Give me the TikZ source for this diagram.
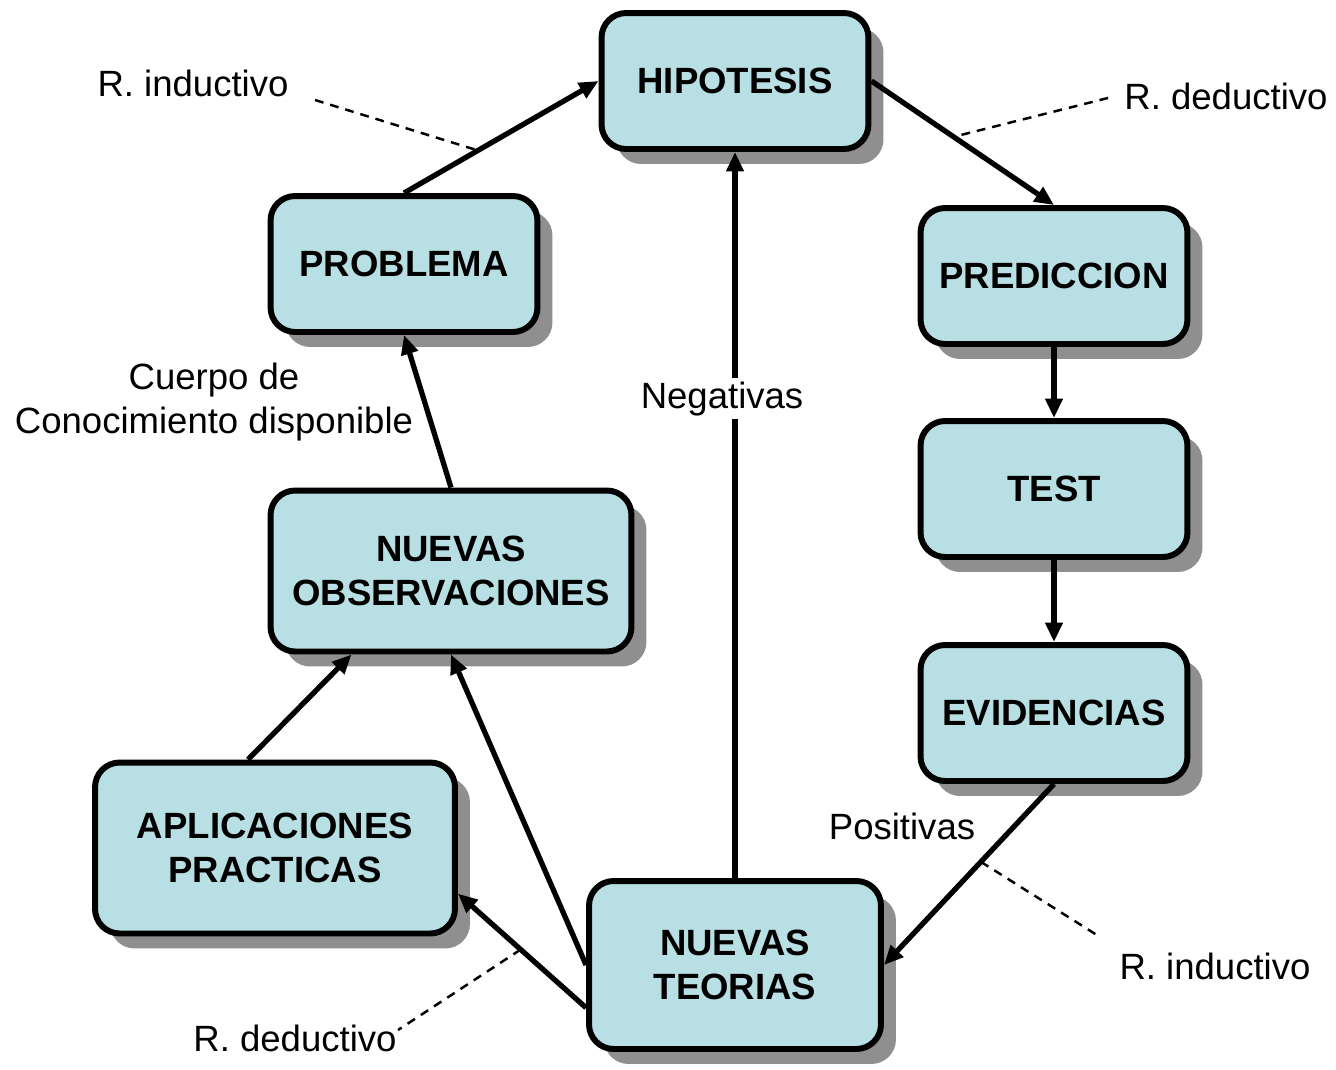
\documentclass[tikz,border=0pt]{standalone}
\usepackage{fontspec}
\setmainfont{Liberation Sans}
\usepackage{xcolor}
\usetikzlibrary{arrows.meta,shadows}
\definecolor{celeste}{HTML}{B8DFE3}
\definecolor{sombra}{HTML}{8F8F8F}

\begin{document}
\begin{tikzpicture}[x=0.02cm,y=-0.02cm]
        \tikzstyle{caja}=[draw=black, fill=celeste, line width=3.4pt, rounded corners=14pt, align=center,
          font=\fontsize{20.8}{25.5}\selectfont\bfseries, minimum width=5.34cm, minimum height=2.72cm,
          drop shadow={shadow xshift=0.3cm, shadow yshift=-0.3cm, fill=sombra, opacity=1}]
        \tikzstyle{rotulo}=[font=\fontsize{20.8}{25.5}\selectfont, align=center, inner sep=2pt]
        \tikzstyle{flecha}=[line width=3pt, -{Triangle[length=11pt,width=9.5pt]}]
        \tikzstyle{guia}=[line width=1.4pt, dash pattern=on 5pt off 4pt]

        \useasboundingbox (0,0) rectangle (1336,1069);

        % cajas
        \node[caja] (hip) at (735,81) {HIPOTESIS};
        \node[caja] (prob) at (404,264) {PROBLEMA};
        \node[caja] (pred) at (1054,276) {PREDICCION};
        \node[caja] (test) at (1054,489) {TEST};
        \node[caja] (evid) at (1054,713) {EVIDENCIAS};
        \node[caja, minimum width=7.22cm, minimum height=3.22cm] (nobs) at (451,571) {NUEVAS\\OBSERVACIONES};
        \node[caja, minimum width=7.2cm, minimum height=3.42cm] (apli) at (275,848) {APLICACIONES\\PRACTICAS};
        \node[caja, minimum width=5.84cm, minimum height=3.36cm] (nteo) at (735,965) {NUEVAS\\TEORIAS};

        % flechas
        \draw[flecha] (prob.north) -- (hip.west) coordinate[pos=0.38] (p1);
        \draw[flecha] (hip.east) -- (pred.north) coordinate[pos=0.45] (p2);
        \draw[flecha] (pred) -- (test);
        \draw[flecha] (test) -- (evid);
        \draw[flecha] (evid.south) -- (nteo.east) coordinate[pos=0.43] (p3);
        \draw[flecha] (nteo) -- node[rotulo, fill=white, pos=0.66, xshift=-0.26cm, inner xsep=8pt]{Negativas} (hip);
        \draw[flecha] (nteo.west) -- (nobs.south);
        \draw[flecha] (nteo.-164) -- (apli.-14) coordinate[pos=0.51] (p4);
        \draw[flecha] (apli.107) -- (nobs.-140);
        \draw[flecha] (nobs.north) -- (prob.south);

        % rotulos
        \node[rotulo] (ri1) at (193,83) {R. inductivo};
        \node[rotulo] (rd1) at (1226,96) {R. deductivo};
        \node[rotulo] (ri2) at (1215,966) {R. inductivo};
        \node[rotulo] (rd2) at (295,1038) {R. deductivo};
        \node[rotulo] (cuerpo) at (214,402) {Cuerpo de\\Conocimiento disponible};
        \node[rotulo] (posit) at (902,826) {Positivas};

        \coordinate (d1) at (315,100);
        \coordinate (d2) at (1108,98);
        \coordinate (d3) at (1100,937);
        \coordinate (d4) at (398,1030);

        \draw[guia] (d1) -- (p1);
        \draw[guia] (d2) -- (p2);
        \draw[guia] (p3) -- (d3);
        \draw[guia] (p4) -- (d4);
      \end{tikzpicture}
\end{document}
